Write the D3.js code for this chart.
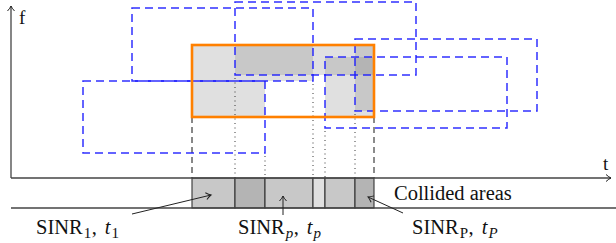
<!DOCTYPE html>
<html><head><meta charset="utf-8">
<script src="https://cdn.jsdelivr.net/npm/d3@7"></script>
<style>body{margin:0;background:#fff} svg{display:block}</style>
</head><body><svg id="c" width="616" height="243"></svg>
<script>
// ---- data (time / frequency units) ----
const timeDomain = [0, 601];
const freqDomain = [0, 173];
const interfererNames = ["A", "B", "C", "D", "E"];
const interfererStart = [121, 224, 72, 344, 314];
const interfererEnd   = [302, 405, 254, 526, 496];
const interfererLow   = [97, 103, 25, 67, 50];
const interfererHigh  = [170, 176, 97, 139, 121];
const targetPacket = [181, 363, 61, 133]; // start, end, low, high
const axisLabels = ["f", "t"];
const stripLabel = "Collided areas";

const W = 616, H = 243;
const svg = d3.select("#c");
const x = d3.scaleLinear().domain(timeDomain).range([11, 612]);
const y = d3.scaleLinear().domain(freqDomain).range([178, 5]);
const stripBottom = y(-30);

const shade = d3.scaleOrdinal().domain([1, 2, 3]).range(["#e0e0e0", "#c8c8c8", "#b4b4b4"]);

const pk = interfererNames.map((n, i) => ({name: n, t0: interfererStart[i], t1: interfererEnd[i], f0: interfererLow[i], f1: interfererHigh[i]}));
const [T0, T1, F0, F1] = targetPacket;

// boundaries inside the target packet
const inside = (v, a, b) => v > a && v < b;
const tb = Array.from(new Set([T0, T1, ...pk.flatMap(p => [p.t0, p.t1]).filter(v => inside(v, T0, T1))])).sort((a, b) => a - b);
const fb = Array.from(new Set([F0, F1, ...pk.flatMap(p => [p.f0, p.f1]).filter(v => inside(v, F0, F1))])).sort((a, b) => a - b);

const cells = [];
for (let i = 0; i < tb.length - 1; i++) for (let j = 0; j < fb.length - 1; j++) {
  const tc = (tb[i] + tb[i + 1]) / 2, fc = (fb[j] + fb[j + 1]) / 2;
  const n = pk.filter(p => tc > p.t0 && tc < p.t1 && fc > p.f0 && fc < p.f1).length;
  if (n > 0) cells.push({a: tb[i], b: tb[i + 1], lo: fb[j], hi: fb[j + 1], n});
}
svg.append("g").selectAll("rect").data(cells).join("rect")
  .attr("x", d => x(d.a)).attr("width", d => x(d.b) - x(d.a))
  .attr("y", d => y(d.hi)).attr("height", d => y(d.lo) - y(d.hi))
  .attr("fill", d => shade(d.n));

// strip of collided areas
const strip = [];
for (let i = 0; i < tb.length - 1; i++) {
  const tc = (tb[i] + tb[i + 1]) / 2;
  strip.push({a: tb[i], b: tb[i + 1], n: pk.filter(p => tc > p.t0 && tc < p.t1).length});
}
svg.append("g").selectAll("rect").data(strip).join("rect")
  .attr("x", d => x(d.a)).attr("width", d => x(d.b) - x(d.a))
  .attr("y", y(0)).attr("height", stripBottom - y(0))
  .attr("fill", d => shade(d.n)).attr("stroke", "#333").attr("stroke-width", 1.1);

// projection lines from interferer edges
const proj = [];
pk.forEach(p => [p.t0, p.t1].forEach(t => { if (inside(t, T0, T1)) proj.push({t, f: p.f0}); }));
svg.append("g").selectAll("line").data(proj).join("line")
  .attr("x1", d => x(d.t)).attr("x2", d => x(d.t))
  .attr("y1", d => y(d.f) + 3).attr("y2", y(0))
  .attr("stroke", "#222").attr("stroke-width", 0.9).attr("stroke-dasharray", "1,3.5");
// dashed projections of the target edges
svg.append("g").selectAll("line").data([T0, T1]).join("line")
  .attr("x1", d => x(d)).attr("x2", d => x(d))
  .attr("y1", y(F0)).attr("y2", y(0))
  .attr("stroke", (d, i) => i === 0 ? "#111" : "#666").attr("stroke-width", (d, i) => i === 0 ? 1 : 1.5)
  .attr("stroke-dasharray", "6,4");

// interferers (blue dashed)
svg.append("g").selectAll("rect").data(pk).join("rect")
  .attr("x", d => x(d.t0)).attr("width", d => x(d.t1) - x(d.t0))
  .attr("y", d => y(d.f1)).attr("height", d => y(d.f0) - y(d.f1))
  .attr("fill", "none").attr("stroke", "#1a1aff").attr("stroke-opacity", 0.9)
  .attr("stroke-width", 1.5).attr("stroke-dasharray", "8,5");

// target packet (orange)
svg.append("rect")
  .attr("x", x(T0)).attr("width", x(T1) - x(T0))
  .attr("y", y(F1)).attr("height", y(F0) - y(F1))
  .attr("fill", "none").attr("stroke", "#ff8000").attr("stroke-width", 2.6);

// arrow markers
const defs = svg.append("defs");
defs.append("marker").attr("id", "ah").attr("viewBox", "-6 -5 8 10")
  .attr("markerWidth", 8).attr("markerHeight", 10).attr("markerUnits", "userSpaceOnUse")
  .attr("refX", 0).attr("refY", 0).attr("orient", "auto")
  .append("path").attr("d", "M-5,-3.5 Q-2,-0.8 0,0 Q-2,0.8 -5,3.5")
  .attr("fill", "none").attr("stroke", "#222").attr("stroke-width", 1);

// axes
const axis = svg.append("g").attr("stroke", "#444").attr("stroke-width", 1.3);
axis.append("line").attr("x1", x(0)).attr("x2", x(0)).attr("y1", y(0)).attr("y2", y(freqDomain[1]) + 1).attr("marker-end", "url(#ah)");
axis.append("line").attr("x1", x(0)).attr("x2", x(timeDomain[1]) - 1).attr("y1", y(0)).attr("y2", y(0)).attr("marker-end", "url(#ah)");
axis.append("line").attr("x1", x(0)).attr("x2", W).attr("y1", stripBottom).attr("y2", stripBottom);

const serif = "'Liberation Serif','DejaVu Serif',serif";
svg.append("text").attr("x", x(8)).attr("y", y(154)).attr("font-family", serif).attr("font-size", 19).attr("fill", "#111").text(axisLabels[0]);
svg.append("text").attr("x", x(592)).attr("y", y(8)).attr("font-family", serif).attr("font-size", 19).attr("fill", "#111").text(axisLabels[1]);
svg.append("text").attr("x", x(383)).attr("y", y(-22)).attr("font-family", serif).attr("font-size", 20.5).attr("fill", "#111").text(stripLabel);

// SINR labels
const sinrLabels = [
  {t: 25, sub: "1", subItalic: false, tsub: "1", tsubItalic: false},
  {t: 227, sub: "p", subItalic: true, tsub: "p", tsubItalic: true},
  {t: 401, sub: "P", subItalic: false, tsub: "P", tsubItalic: true}
];
sinrLabels.forEach(l => {
  const tx = svg.append("text").attr("x", x(l.t)).attr("y", y(-56)).attr("font-family", serif).attr("font-size", 20.5).attr("fill", "#111");
  tx.append("tspan").text("SINR");
  tx.append("tspan").attr("font-size", 15).attr("dx", 1).attr("dy", 4).attr("font-style", l.subItalic ? "italic" : "normal").text(l.sub);
  tx.append("tspan").attr("dy", -4).attr("dx", 0.5).text(",");
  tx.append("tspan").attr("dx", 8).attr("font-style", "italic").text("t");
  tx.append("tspan").attr("font-size", 15).attr("dx", 1).attr("dy", 4).attr("font-style", l.tsubItalic ? "italic" : "normal").text(l.tsub);
});

// arrows pointing into the strip
const arrows = [
  {from: [121, -36], to: [200, -17]},
  {from: [272, -37], to: [272, -18]},
  {from: [392, -35], to: [357, -19]}
];
svg.append("g").selectAll("line").data(arrows).join("line")
  .attr("x1", d => x(d.from[0])).attr("y1", d => y(d.from[1]))
  .attr("x2", d => x(d.to[0])).attr("y2", d => y(d.to[1]))
  .attr("stroke", "#222").attr("stroke-width", 1).attr("marker-end", "url(#ah)");
</script></body></html>
